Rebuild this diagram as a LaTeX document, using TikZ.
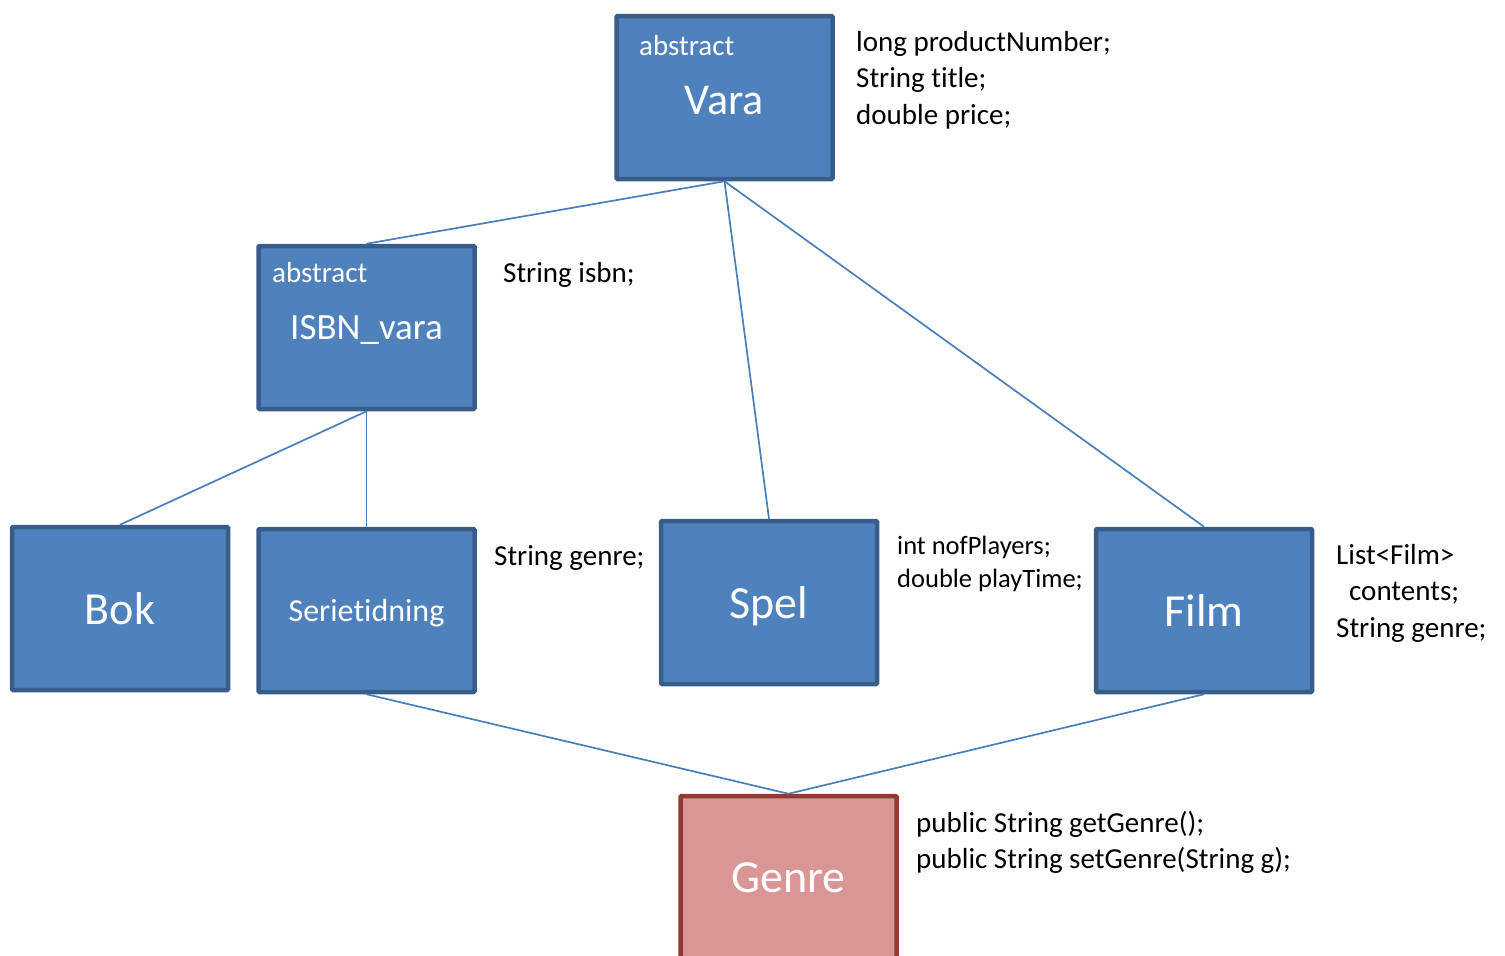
\documentclass[tikz,border=0pt]{standalone}
\usepackage{fontspec}
\setmainfont[Ligatures={NoCommon,NoContextual,NoRequired},Contextuals={NoAlternate}]{Carlito}
\definecolor{boxfill}{HTML}{4F81BD}
\definecolor{boxdraw}{HTML}{385D8A}
\definecolor{gfill}{HTML}{D99694}
\definecolor{gdraw}{HTML}{953735}
\definecolor{conn}{HTML}{4A7EBB}
\begin{document}
\begin{tikzpicture}[x=1pt,y=-1pt,
  cls/.style={draw=boxdraw, fill=boxfill, line width=4.5pt, minimum width=216pt, minimum height=163pt, inner sep=0pt, text=white, rounded corners=1pt, text depth=0pt},
  genrebox/.style={cls, draw=gdraw, fill=gfill},
  big/.style={font=\fontsize{46}{50}\selectfont},
  abstr/.style={anchor=west, inner sep=0pt, text=white, font=\fontsize{29}{34}\selectfont},
  attr/.style={anchor=west, align=left, inner sep=0pt, font=\fontsize{29}{36.5}\selectfont},
  attrs/.style={anchor=west, align=left, inner sep=0pt, font=\fontsize{26.5}{33}\selectfont},
  conn/.style={draw=conn, line width=1.7pt}]
\clip (0,0) rectangle (1505,956);
\useasboundingbox (0,0) rectangle (1505,956);

\node[cls, font=\fontsize{44}{50}\selectfont, text height=33pt] (vara) at (724.5,97.5) {Vara};
\node[abstr] (varaabs) at (639,46) {abstract};
\node[cls, font=\fontsize{37}{42}\selectfont] (isbn) at (366.5,327.5) {ISBN\_vara};
\node[abstr] (isbnabs) at (272,273) {abstract};
\node[cls, big] (bok) at (120,608.5) {Bok};
\node[cls, font=\fontsize{32}{36}\selectfont] (serie) at (366.5,610.5) {Serietidning};
\node[cls, big] (spel) at (769,602.5) {Spel};
\node[cls, big] (film) at (1204,610.5) {Film};
\node[genrebox, big] (genre) at (788.5,877.5) {Genre};

\node[attr] (varaattr) at (856,80) {long productNumber;\\String title;\\double price;};
\node[attr] (isbnattr) at (503,275) {String isbn;};
\node[attr] (serieattr) at (494,558) {String genre;};
\node[attrs] (spelattr) at (897,564) {int nofPlayers;\\double playTime;};
\node[attr] (filmattr) at (1336,593) {List<Film>\\\hspace*{13pt}contents;\\String genre;};
\node[attr] (genreattr) at (916,842.5) {public String getGenre();\\public String setGenre(String g);};

\draw[conn] (vara.south) -- (isbn.north);
\draw[conn] (vara.south) -- (spel.north);
\draw[conn] (vara.south) -- (film.north);
\draw[conn] (isbn.south) -- (bok.north);
\draw[conn] (isbn.south) -- (serie.north);
\draw[conn] (serie.south) -- (genre.north);
\draw[conn] (film.south) -- (genre.north);
\end{tikzpicture}
\end{document}
